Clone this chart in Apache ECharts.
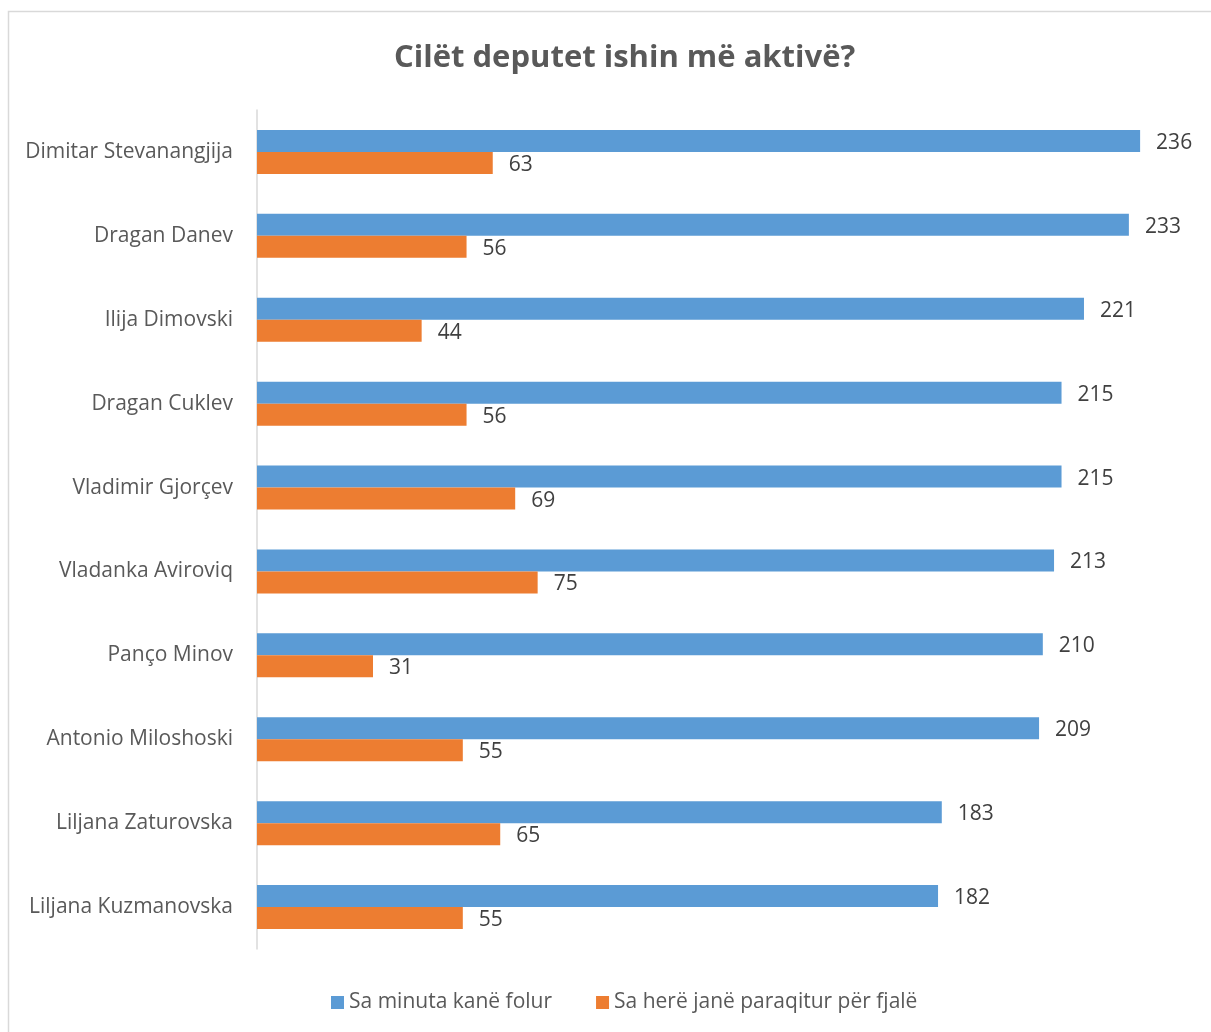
<!DOCTYPE html>
<html>
<head>
<meta charset="utf-8">
<script src="https://cdn.jsdelivr.net/npm/echarts@6/dist/echarts.min.js"></script>
<style>html,body{margin:0;padding:0;background:#fff;}#c{width:1211px;height:1032px;}</style>
</head>
<body>
<div id="c"></div>
<script>
const categories = ["Dimitar Stevanangjija","Dragan Danev","Ilija Dimovski","Dragan Cuklev","Vladimir Gjorçev","Vladanka Aviroviq","Panço Minov","Antonio Miloshoski","Liljana Zaturovska","Liljana Kuzmanovska"];
const minutes = [236,233,221,215,215,213,210,209,183,182];
const times = [63,56,44,56,69,75,31,55,65,55];
const seriesNames = ["Sa minuta kanë folur","Sa herë janë paraqitur për fjalë"];
const FONT = "Open Sans";
const chart = echarts.init(document.getElementById('c'));
chart.setOption({
  backgroundColor: '#fff',
  animation: false,
  title: {
    text: 'Cilët deputet ishin më aktivë?',
    left: 389, top: 38,
    textStyle: {fontFamily: FONT, fontWeight: 'bold', fontSize: 31, color: '#595959'}
  },
  graphic: [{type:'rect', shape:{x:8.5,y:11.5,width:1220,height:1040}, style:{fill:'none', stroke:'#d9d9d9', lineWidth:1.5}, silent:true}],
  legend: {
    bottom: 14, left: 326, itemWidth: 13, itemHeight: 13, itemGap: 44,
    icon: 'rect',
    textStyle: {fontFamily: FONT, fontSize: 21, color: '#595959'},
    data: seriesNames
  },
  grid: {left: 257, top: 110, bottom: 83, right: 18.5, containLabel: false},
  xAxis: {type: 'value', min: 0, max: 250, show: false, splitLine:{show:false}},
  yAxis: {
    type: 'category', inverse: true, data: categories,
    axisLine: {show: true, lineStyle: {color: '#d9d9d9', width: 1.5}},
    axisTick: {show: false},
    axisLabel: {fontFamily: FONT, fontSize: 21, color: '#595959', margin: 24, padding: [4, 0, 0, 0]}
  },
  series: [
    {name: seriesNames[0], type: 'bar', data: minutes, barWidth: 22, barGap: '0%',
     itemStyle: {color: '#5B9BD5'},
     label: {show: true, position: 'right', distance: 16, offset: [0, 2], fontFamily: FONT, fontSize: 21, color: '#404040'}},
    {name: seriesNames[1], type: 'bar', data: times, barWidth: 22, barGap: '0%',
     itemStyle: {color: '#ED7D31'},
     label: {show: true, position: 'right', distance: 16, offset: [0, 2], fontFamily: FONT, fontSize: 21, color: '#404040'}}
  ]
});
</script>
</body>
</html>
